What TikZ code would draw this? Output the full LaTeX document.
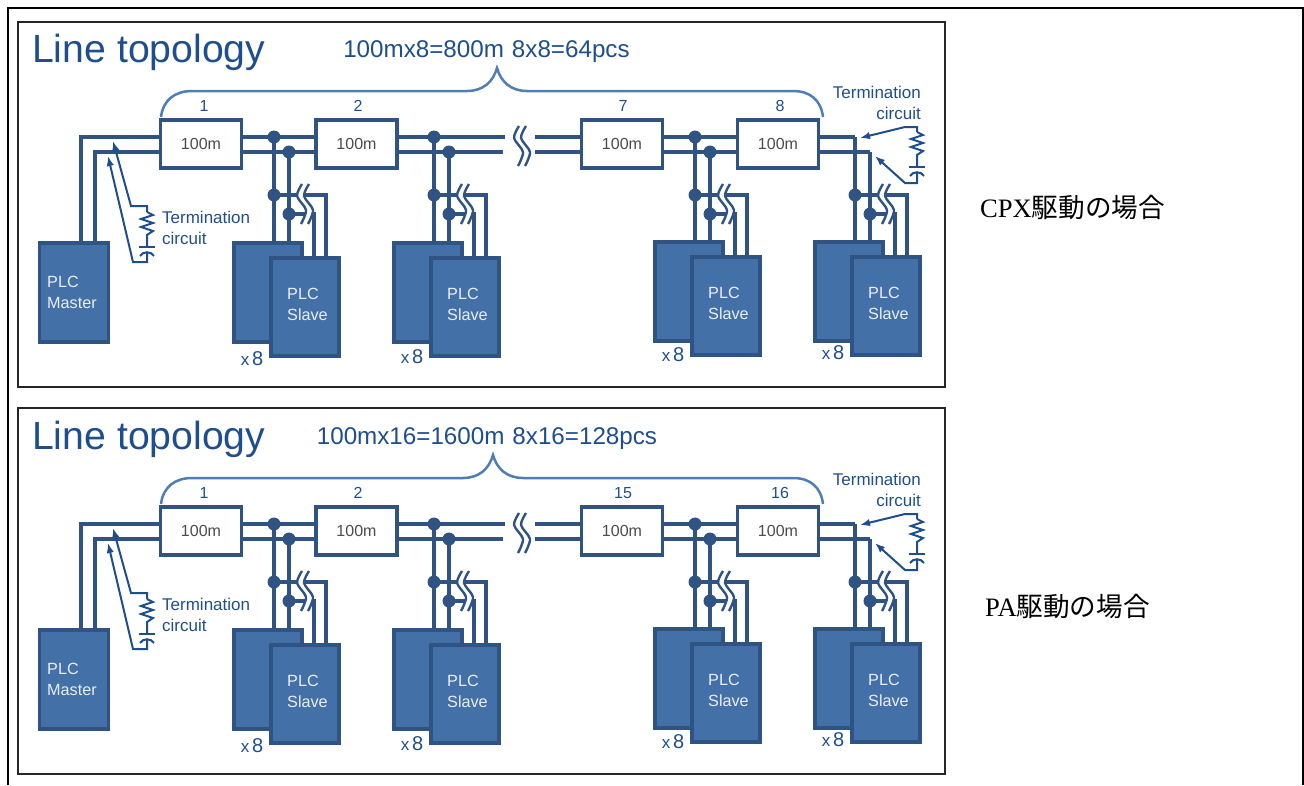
\documentclass[tikz,border=0pt]{standalone}
\usepackage{fontspec}
\setmainfont{Liberation Sans}
\newfontfamily\serifjp{Liberation Serif}
\newfontfamily\cjk{Noto Sans CJK JP}
\usetikzlibrary{arrows.meta}
\definecolor{plcfill}{HTML}{4470A8}
\definecolor{plcline}{HTML}{2F5382}
\definecolor{labelblue}{HTML}{1F4E8F}
\definecolor{bracelin}{HTML}{4F7DB5}
\tikzset{
  >= {Latex[length=10pt,width=7.5pt]},
  plc/.style={rectangle, draw=plcline, fill=plcfill, line width=3.8pt, inner sep=0pt},
  plctxt/.style={anchor=west, align=left, text=white!88!plcfill, inner sep=0pt, font=\fontsize{16.2}{21}\selectfont},
  seg/.style={rectangle, draw=plcline, fill=white, line width=3.8pt, inner sep=0pt, minimum width=81, minimum height=47.5, text=black!70, font=\fontsize{16}{16}\selectfont},
  bus/.style={draw=plcline, line width=3.8pt},
  dot/.style={circle, fill=plcline, inner sep=0pt, minimum size=13},
  term/.style={draw=labelblue, line width=2pt},
  lbl/.style={text=labelblue, inner sep=0pt, font=\fontsize{#1}{#1}\selectfont},
  lbl/.default=16,
  ttl/.style={text=labelblue, inner sep=0pt, font=\fontsize{17}{21}\selectfont}
}
\newcommand{\breakmark}[2]{
  \draw[white, line width=6pt] plot[smooth] coordinates {(#1+4,#2-20) (#1-1,#2-8) (#1+8,#2+6) (#1+3,#2+20)};
  \draw[plcline, line width=2.4pt] plot[smooth] coordinates {(#1+1,#2-20) (#1-4,#2-8) (#1+5,#2+6) (#1,#2+20)};
  \draw[plcline, line width=2.4pt] plot[smooth] coordinates {(#1+8,#2-20) (#1+3,#2-8) (#1+12,#2+6) (#1+7,#2+20)};
}
\newcommand{\slavegroup}[4]{
  \node[plc, minimum width=68.5, minimum height=98.5] (#1back) at (#2-6,292.5+#3) {};
  \node[plc, minimum width=68.5, minimum height=98] (#1front) at (#2+31,307+#3) {};
  \node[plctxt] (#1txt) at (#2+13,304.5+#3) {PLC\\Slave};
  \node[lbl=17] (#1cnt) at (#2-22,#4) {x\,\fontsize{20}{20}\selectfont 8};
  \coordinate (#1u) at (#2,137);
  \coordinate (#1l) at (#2+15,152);
  \coordinate (#1p) at (#2+52,256+#3);
  \coordinate (#1q) at (#2+40,256+#3);
  \node[dot] (#1m) at (#2,195) {};
  \node[dot] (#1n) at (#2+15,214) {};
  \draw[bus] (#1u) -- (#1u |- #1back.north);
  \draw[bus] (#1l) -- (#1l |- #1back.north);
  \draw[bus] (#1m.center) -| (#1p);
  \draw[bus] (#1n.center) -| (#1q);
  \breakmark{#2+27}{204}
}
\newcommand{\linepanel}[9]{
  \begin{scope}[yshift=#1, name prefix=#2]
    \node[inner sep=0pt, text=labelblue, anchor=base west, font=\fontsize{39.2}{39}\selectfont] (title) at (32,62) {Line topology};
    \node[lbl=24.2] (head) at (#3,52) {#4};
    \coordinate (peak) at (#5,68);
    \draw[bracelin, line width=2.5pt] (161,117) .. controls (163,100) and (175,91) .. (192,91) -- (#5-30,91) .. controls (#5-14,91) and (#5-4,82) .. (peak) .. controls (#5+4,82) and (#5+14,91) .. (#5+30,91) -- (793,91) .. controls (810,91) and (821,100) .. (823,117);

    \node[seg] (b1) at (201,144) {100m};
    \node[seg] (b2) at (356.5,144) {100m};
    \node[seg] (b3) at (622,144) {100m};
    \node[seg] (b4) at (778,144) {100m};
    \node[lbl] (n1) at (204,106) {#6};
    \node[lbl] (n2) at (358,106) {#7};
    \node[lbl] (n3) at (623,106) {#8};
    \node[lbl] (n4) at (780,106) {#9};

    \node[plc, minimum width=69, minimum height=98.5] (master) at (74,292.5) {};
    \node[plctxt] (mtxt) at (47,292.5) {PLC\\Master};

    \slavegroup{a}{274}{0}{359}
    \slavegroup{c}{434}{0}{357}
    \slavegroup{e}{695}{-1}{355}
    \slavegroup{g}{855}{-1}{353}

    \coordinate (mu) at (81,137);
    \coordinate (ml) at (95,152);
    \coordinate (gapul) at (505,137);
    \coordinate (gapll) at (503,152);
    \coordinate (gapur) at (535,137);
    \coordinate (gaplr) at (535,152);
    \draw[bus] (master.north -| mu) -- (mu) -- (mu -| b1.west);
    \draw[bus] (master.north -| ml) -- (ml) -- (ml -| b1.west);
    \draw[bus] (au -| b1.east) -- (au -| b2.west);
    \draw[bus] (al -| b1.east) -- (al -| b2.west);
    \draw[bus] (cu -| b2.east) -- (gapul);
    \draw[bus] (cl -| b2.east) -- (gapll);
    \draw[bus] (gapur) -- (gapur -| b3.west);
    \draw[bus] (gaplr) -- (gaplr -| b3.west);
    \draw[bus] (eu -| b3.east) -- (eu -| b4.west);
    \draw[bus] (el -| b3.east) -- (el -| b4.west);
    \draw[bus] (gu -| b4.east) -- (gu);
    \draw[bus] (gl -| b4.east) -- (gl);
    \node[dot] (adu) at (au) {};
    \node[dot] (adl) at (al) {};
    \node[dot] (cdu) at (cu) {};
    \node[dot] (cdl) at (cl) {};
    \node[dot] (edu) at (eu) {};
    \node[dot] (edl) at (el) {};
    \breakmark{518}{146}

    \coordinate (lt1) at (113,141);
    \coordinate (lt2) at (108,156);
    \draw[term,->] (147,212) -- (147,206) -- (131,206) -- (lt1);
    \draw[term] (147,212) -- (153,215) -- (141,219) -- (153,223) -- (141,227) -- (153,231) -- (147,235) -- (147,247);
    \draw[term] (139,247) -- (155,247);
    \draw[term] (140,256) .. controls (143,251) and (151,251) .. (154,256);
    \draw[term,->] (147,252) -- (147,262) -- (133,262) -- (lt2);
    \node[ttl, anchor=west] (ltxt) at (162,217) {Termination};
    \node[ttl, anchor=west] (ltxs) at (162,238) {circuit};

    \coordinate (rt1) at (860,138);
    \coordinate (rt2) at (875,156);
    \draw[term,->] (917,132) -- (917,127) -- (905,127) -- (rt1);
    \draw[term] (917,132) -- (923,135) -- (911,139) -- (923,143) -- (911,147) -- (923,151) -- (917,155) -- (917,167);
    \draw[term] (909,167) -- (925,167);
    \draw[term] (910,176) .. controls (913,171) and (921,171) .. (924,176);
    \draw[term,->] (917,172) -- (917,183) -- (905,183) -- (rt2);
    \node[ttl, anchor=east] (rtxt) at (921,92) {Termination};
    \node[ttl, anchor=east] (rtxs) at (921,113) {circuit};
  \end{scope}
}

\begin{document}
\begin{tikzpicture}[x=1pt, y=-1pt]
      \useasboundingbox (0,0) rectangle (1304,785);
      \draw[black, line width=1.5pt] (8,785) -- (8,8) -- (1303,8) -- (1303,785);
      \draw[black!85, line width=1.3pt] (18,22) rectangle (945,387);
      \draw[black!85, line width=1.3pt] (18,408) rectangle (945,774);

      \linepanel{0pt}{up-}{486.5}{100mx8=800m\hspace{8pt}8x8=64pcs}{497}{1}{2}{7}{8}
      \linepanel{-387pt}{lo-}{487}{100mx16=1600m\hspace{8pt}8x16=128pcs}{493}{1}{2}{15}{16}

      \node[anchor=west, inner sep=0pt, font=\fontsize{26.6}{28}\selectfont] (cpx) at (980,207) {\serifjp CPX\cjk 駆動の場合};
      \node[anchor=west, inner sep=0pt, font=\fontsize{26.6}{28}\selectfont] (pa) at (985,606) {\serifjp PA\cjk 駆動の場合};
\end{tikzpicture}
\end{document}
